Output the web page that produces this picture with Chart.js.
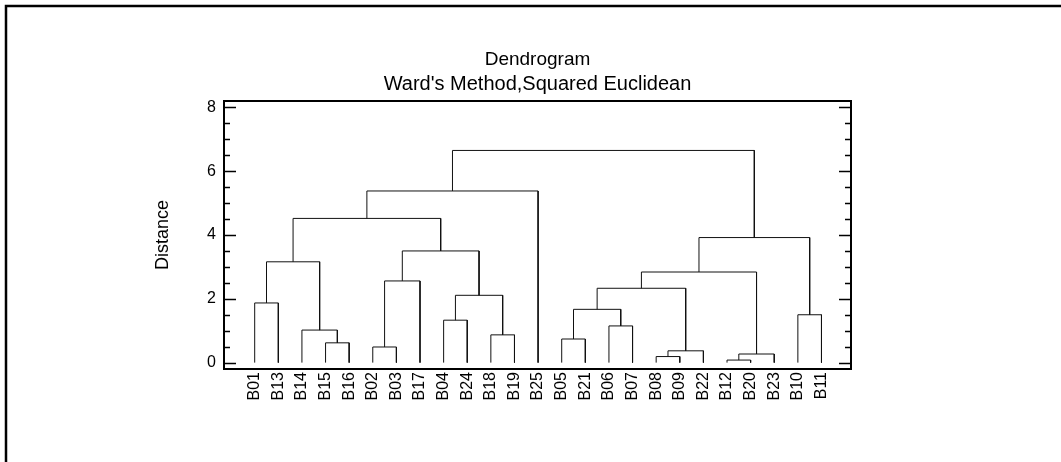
<!DOCTYPE html>
<html>
<head>
<meta charset="utf-8">
<script src="https://cdn.jsdelivr.net/npm/chart.js@4.4.1/dist/chart.umd.min.js"></script>
<style>
  html, body { margin: 0; padding: 0; background: #fff; }
  #wrap { width: 1061px; height: 462px; position: relative; }
</style>
</head>
<body>
<div id="wrap"><canvas id="dendrogram"></canvas></div>
<script>
const titleText = 'Dendrogram';
const subtitleText = "Ward's Method,Squared Euclidean";

// leaves in dendrogram order
const leafLabels = ['B01', 'B13', 'B14', 'B15', 'B16', 'B02', 'B03', 'B17', 'B04', 'B24', 'B18', 'B19', 'B25',
  'B05', 'B21', 'B06', 'B07', 'B08', 'B09', 'B22', 'B12', 'B20', 'B23', 'B10', 'B11'];

// merge steps: index < 25 is a leaf, index >= 25 is merge (index - 25)
const mergeLeft = [20, 17, 25, 26, 5, 3, 13, 10, 2, 15, 8, 23, 31, 0, 35, 37, 29, 40, 38, 41, 42, 43, 46, 47];
const mergeRight = [21, 18, 22, 19, 6, 4, 14, 11, 30, 16, 9, 24, 34, 1, 32, 28, 7, 27, 33, 39, 36, 44, 12, 45];
const mergeHeight = [0.08, 0.19, 0.27, 0.37, 0.49, 0.62, 0.74, 0.87, 1.02, 1.15, 1.33, 1.50, 1.67, 1.87,
  2.11, 2.33, 2.56, 2.84, 3.16, 3.50, 3.92, 4.52, 5.38, 6.65];

const yTickValues = [0, 2, 4, 6, 8];

const FONT = 'Liberation Sans, Arial, sans-serif';

const nodeX = leafLabels.map((_, i) => i);
const nodeY = leafLabels.map(() => 0);

const datasets = mergeHeight.map((h, k) => {
  const l = mergeLeft[k];
  const r = mergeRight[k];
  nodeX.push((nodeX[l] + nodeX[r]) / 2);
  nodeY.push(h);
  return {
    data: [
      { x: nodeX[l], y: nodeY[l] },
      { x: nodeX[l], y: h },
      { x: nodeX[r], y: h },
      { x: nodeX[r], y: nodeY[r] },
    ],
    showLine: true,
    borderColor: '#111',
    borderWidth: 1,
    pointRadius: 0,
    tension: 0,
  };
});

const framePlugin = {
  id: 'framePlugin',
  afterDraw(chart) {
    const { ctx, chartArea: a, scales: { y } } = chart;
    ctx.save();
    ctx.strokeStyle = '#000';

    // outer page frame
    ctx.lineWidth = 2.5;
    ctx.beginPath();
    ctx.moveTo(6, 462);
    ctx.lineTo(6, 6);
    ctx.lineTo(1061, 6);
    ctx.stroke();

    // plot frame
    ctx.lineWidth = 2;
    ctx.strokeRect(a.left, a.top, a.right - a.left, a.bottom - a.top);

    // inward ticks on both sides
    ctx.lineWidth = 1.5;
    for (let v = 0; v <= 8; v += 0.5) {
      const py = Math.round(y.getPixelForValue(v)) + 0.5;
      const len = v % 2 === 0 ? 12 : 6;
      ctx.beginPath();
      ctx.moveTo(a.left, py);
      ctx.lineTo(a.left + len, py);
      ctx.moveTo(a.right, py);
      ctx.lineTo(a.right - len, py);
      ctx.stroke();
    }

    // titles centred over the plot area
    const cx = (a.left + a.right) / 2;
    ctx.fillStyle = '#000';
    ctx.textAlign = 'center';
    ctx.textBaseline = 'middle';
    ctx.font = '19px ' + FONT;
    ctx.fillText(titleText, cx, 60);
    ctx.font = '20px ' + FONT;
    ctx.fillText(subtitleText, cx, 84);
    ctx.restore();
  }
};

const ctx = document.getElementById('dendrogram').getContext('2d');
new Chart(ctx, {
  type: 'scatter',
  data: { datasets: datasets },
  options: {
    responsive: true,
    maintainAspectRatio: false,
    animation: false,
    layout: { padding: { left: 0, right: 210, top: 101, bottom: 0 } },
    plugins: {
      legend: { display: false },
      tooltip: { enabled: false },
    },
    scales: {
      x: {
        type: 'linear',
        min: -1.3,
        max: 25.25,
        grid: { display: false, drawTicks: false },
        border: { display: false },
        afterBuildTicks: (scale) => {
          scale.ticks = leafLabels.map((_, i) => ({ value: i }));
        },
        afterFit: (scale) => { scale.height = 93; },
        ticks: {
          autoSkip: false,
          minRotation: 90,
          maxRotation: 90,
          padding: 3,
          color: '#000',
          font: { family: FONT, size: 16 },
          callback: (value) => leafLabels[value],
        },
      },
      y: {
        min: -0.2,
        max: 8.2,
        grid: { display: false, drawTicks: false },
        border: { display: false },
        afterBuildTicks: (scale) => {
          scale.ticks = yTickValues.map(v => ({ value: v }));
        },
        afterFit: (scale) => { scale.width = 224; },
        ticks: {
          padding: 8,
          color: '#000',
          font: { family: FONT, size: 16 },
        },
        title: {
          display: true,
          text: 'Distance',
          color: '#000',
          font: { family: FONT, size: 18 },
          padding: { top: 152, bottom: 0 },
        },
      },
    },
  },
  plugins: [framePlugin],
});
</script>
</body>
</html>
